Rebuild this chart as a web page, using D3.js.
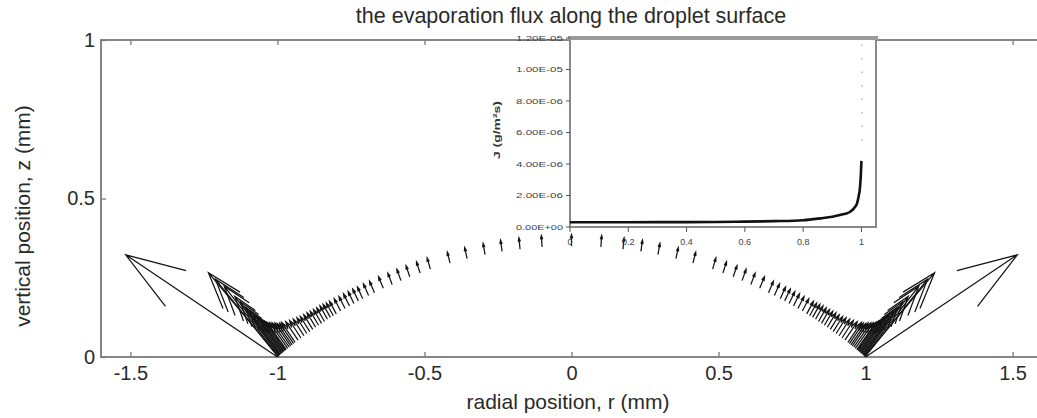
<!DOCTYPE html>
<html>
<head>
<meta charset="utf-8">
<script src="https://cdn.jsdelivr.net/npm/d3@7"></script>
<style>
	body { margin: 0; background: #fff; }
	svg { font-family: "Liberation Sans", Arial, Helvetica, sans-serif; }
</style>
</head>
<body>
<svg id="chart" width="1037" height="418"></svg>
<script>

var xTicks = [-1.5, -1, -0.5, 0, 0.5, 1, 1.5];
var yTicks = [0, 0.5, 1];

// arrow bases along the right half of the drop surface (left half is the mirror image)
var arrowR = [0, 0.1, 0.175, 0.236, 0.294, 0.355, 0.413, 0.48,
	0.515, 0.55, 0.58, 0.61, 0.64, 0.67, 0.69, 0.71, 0.725, 0.74, 0.755, 0.77, 0.785,
	0.80, 0.81, 0.82, 0.83, 0.84, 0.85, 0.86, 0.87, 0.88, 0.89,
	0.90, 0.91, 0.92, 0.93, 0.94, 0.945, 0.95, 0.955, 0.96, 0.965, 0.97,
	0.9725, 0.975, 0.9775, 0.98, 0.9825, 0.985, 0.9875, 0.99, 0.992, 0.994, 0.996, 0.997, 0.9985, 1.0];
var arrowZ = [0.350, 0.347, 0.340, 0.333, 0.323, 0.310, 0.296, 0.277,
	0.265, 0.253, 0.241, 0.229, 0.217, 0.203, 0.194, 0.184, 0.177, 0.169, 0.161, 0.153, 0.145,
	0.136, 0.130, 0.125, 0.119, 0.112, 0.106, 0.100, 0.094, 0.087, 0.080,
	0.074, 0.067, 0.060, 0.053, 0.046, 0.042, 0.038, 0.035, 0.031, 0.027, 0.023,
	0.022, 0.020, 0.018, 0.016, 0.014, 0.012, 0.010, 0.008, 0.006, 0.005, 0.003, 0.002, 0.001, 0.000];
// direction of each arrow, degrees from the +r axis
var arrowAngle = [90, 86, 84, 81.5, 79.5, 77, 75, 73,
	71, 70, 69, 68, 66, 65, 64.5, 64, 63, 62.5, 62, 61, 60.5,
	60, 59.5, 59, 59, 58.5, 58, 57.5, 57, 56.5, 56,
	56, 55.5, 55, 54.5, 54, 54, 53.5, 53.5, 53, 53, 53,
	52.5, 52.5, 52, 52, 52, 52, 51.5, 51.5, 51.5, 51, 50, 48, 49, 32];
// flux at each arrow, 1e-6 g/m2s
var arrowFlux = [0.30, 0.30, 0.30, 0.30, 0.30, 0.30, 0.30, 0.31,
	0.31, 0.31, 0.32, 0.32, 0.33, 0.33, 0.34, 0.34, 0.35, 0.35, 0.36, 0.36, 0.37,
	0.38, 0.39, 0.40, 0.41, 0.42, 0.43, 0.44, 0.45, 0.46, 0.48,
	0.50, 0.53, 0.56, 0.60, 0.65, 0.67, 0.70, 0.75, 0.80, 0.85, 0.90,
	0.95, 1.00, 1.05, 1.10, 1.20, 1.30, 1.45, 1.60, 1.80, 2.00, 2.40, 2.96, 2.70, 5.07];

// inset: flux against radial position
var insetR = [0, 0.1, 0.2, 0.3, 0.4, 0.5, 0.6, 0.7, 0.8, 0.86, 0.9, 0.94, 0.96, 0.975, 0.985, 0.99, 0.995, 0.998, 1.0];
var insetJ = [0.30, 0.30, 0.30, 0.31, 0.31, 0.32, 0.34, 0.37, 0.43, 0.55, 0.65, 0.82, 0.95, 1.2, 1.5, 1.9, 2.5, 3.3, 4.2];
var insetTailR = [1.002, 1.002];
var insetTailJ = [5.5, 12];
var insetXTicks = [0, 0.2, 0.4, 0.6, 0.8, 1];
var insetXLabels = ["0", "0.2", "0.4", "0.6", "0.8", "1"];
var insetYTicks = [0, 2, 4, 6, 8, 10, 12];
var insetYLabels = ["0.00E+00", "2.00E-06", "4.00E-06", "6.00E-06", "8.00E-06", "1.00E-05", "1.20E-05"];

var svg = d3.select("#chart");
var frameColor = "#7a7a7a";
var textColor = "#2a2a2a";

var x = d3.scaleLinear().domain([-1.6, 1.6]).range([101, 1042]);
var y = d3.scaleLinear().domain([0, 1]).range([357, 40]);
var arrowLength = d3.scaleLinear().domain([0, 1]).range([0, 0.12]);

renderMain();
renderArrows();
renderInset();

function tickText(d) {
	return String(d);
}

function renderMain() {

	svg.append("text")
		.attr("x", 571)
		.attr("y", 23)
		.attr("text-anchor", "middle")
		.attr("font-size", 21.5)
		.attr("fill", textColor)
		.text("the evaporation flux along the droplet surface");

	var bottom = svg.append("g")
		.attr("transform", "translate(0," + y(0) + ")")
		.call(d3.axisBottom(x).tickValues(xTicks).tickSize(-5).tickSizeOuter(0).tickPadding(9)
			.tickFormat(tickText));

	var top = svg.append("g")
		.attr("transform", "translate(0," + y(1) + ")")
		.call(d3.axisTop(x).tickValues(xTicks).tickSize(-5).tickSizeOuter(0).tickFormat(""));

	var left = svg.append("g")
		.attr("transform", "translate(" + x(-1.6) + ",0)")
		.call(d3.axisLeft(y).tickValues(yTicks).tickSize(-5).tickSizeOuter(0).tickPadding(6)
			.tickFormat(tickText));

	[bottom, top, left].forEach(function(g) {
		g.select(".domain").remove();
		g.selectAll(".tick line").attr("stroke", frameColor).attr("stroke-width", 1.3);
		g.selectAll(".tick text").attr("font-size", 20).attr("fill", textColor)
			.attr("font-family", "Liberation Sans, Arial, sans-serif");
	});

	svg.append("rect")
		.attr("x", x(-1.6))
		.attr("y", y(1))
		.attr("width", x(1.6) - x(-1.6))
		.attr("height", y(0) - y(1))
		.attr("fill", "none")
		.attr("stroke", frameColor)
		.attr("stroke-width", 1.8);

	svg.append("text")
		.attr("x", 568)
		.attr("y", 409)
		.attr("text-anchor", "middle")
		.attr("font-size", 21)
		.attr("fill", textColor)
		.text("radial position, r (mm)");

	svg.append("text")
		.attr("transform", "translate(30,216) rotate(-90)")
		.attr("text-anchor", "middle")
		.attr("font-size", 21)
		.attr("fill", textColor)
		.text("vertical position, z (mm)");

}

function renderArrows() {

	var arrows = [];

	arrowR.forEach(function(r, i) {
		var len = arrowLength(arrowFlux[i]);
		var a = arrowAngle[i] * Math.PI / 180;
		arrows.push({r: r, z: arrowZ[i], u: len * Math.cos(a), v: len * Math.sin(a)});
		if (r > 0) {
			arrows.push({r: -r, z: arrowZ[i], u: -len * Math.cos(a), v: len * Math.sin(a)});
		}
	});

	// quiver style heads, worked out in data units
	var alpha = 0.33, beta = 0.33;

	svg.append("g")
		.attr("class", "quiver")
		.selectAll("path")
		.data(arrows)
		.enter()
		.append("path")
		.attr("d", function(d) {
			var tx = d.r + d.u, ty = d.z + d.v;
			var h1x = tx - alpha * (d.u + beta * d.v), h1y = ty - alpha * (d.v - beta * d.u);
			var h2x = tx - alpha * (d.u - beta * d.v), h2y = ty - alpha * (d.v + beta * d.u);
			return "M" + x(d.r) + "," + y(d.z) + "L" + x(tx) + "," + y(ty) +
				"M" + x(h1x) + "," + y(h1y) + "L" + x(tx) + "," + y(ty) + "L" + x(h2x) + "," + y(h2y);
		})
		.attr("fill", "none")
		.attr("stroke", "#151515")
		.attr("stroke-width", 1.25);

}

function renderInset() {

	var ix = d3.scaleLinear().domain([0, 1.05]).range([570, 876]);
	var iy = d3.scaleLinear().domain([0, 12]).range([227, 38]);

	var g = svg.append("g").attr("class", "inset");

	g.append("rect")
		.attr("x", ix(0))
		.attr("y", iy(12))
		.attr("width", ix(1.05) - ix(0))
		.attr("height", iy(0) - iy(12))
		.attr("fill", "#fff")
		.attr("stroke", "#8a8a8a")
		.attr("stroke-width", 2);

	g.append("line")
		.attr("x1", ix(0) - 2)
		.attr("x2", ix(1.05) + 2)
		.attr("y1", iy(12))
		.attr("y2", iy(12))
		.attr("stroke", "#9a9a9a")
		.attr("stroke-width", 4);

	g.selectAll("line.ytick")
		.data(insetYTicks)
		.enter()
		.append("line")
		.attr("class", "ytick")
		.attr("x1", ix(0) - 4)
		.attr("x2", ix(0))
		.attr("y1", function(d) { return iy(d); })
		.attr("y2", function(d) { return iy(d); })
		.attr("stroke", "#555");

	g.selectAll("text.ylab")
		.data(insetYTicks)
		.enter()
		.append("text")
		.attr("class", "ylab")
		.attr("x", ix(0) - 7)
		.attr("y", function(d) { return iy(d) + 2.5; })
		.attr("text-anchor", "end")
		.attr("font-size", 7.5)
		.attr("textLength", 47)
		.attr("lengthAdjust", "spacingAndGlyphs")
		.attr("fill", "#444")
		.text(function(d, i) { return insetYLabels[i]; });

	g.selectAll("line.xtick")
		.data(insetXTicks)
		.enter()
		.append("line")
		.attr("class", "xtick")
		.attr("x1", function(d) { return ix(d); })
		.attr("x2", function(d) { return ix(d); })
		.attr("y1", iy(0))
		.attr("y2", iy(0) + 5)
		.attr("stroke", "#555");

	g.selectAll("text.xlab")
		.data(insetXTicks)
		.enter()
		.append("text")
		.attr("class", "xlab")
		.attr("x", function(d) { return ix(d); })
		.attr("y", iy(0) + 18)
		.attr("text-anchor", "middle")
		.attr("font-size", 9)
		.attr("fill", "#444")
		.text(function(d, i) { return insetXLabels[i]; });

	g.append("text")
		.attr("transform", "translate(500,130) rotate(-90)")
		.attr("text-anchor", "middle")
		.attr("font-size", 9)
		.attr("font-weight", "bold")
		.attr("textLength", 58)
		.attr("lengthAdjust", "spacingAndGlyphs")
		.attr("fill", "#333")
		.text("J (g/m\u00b2s)");

	var line = d3.line()
		.curve(d3.curveMonotoneX)
		.x(function(d, i) { return ix(insetR[i]); })
		.y(function(d) { return iy(d); });

	g.append("path")
		.datum(insetJ)
		.attr("d", line)
		.attr("fill", "none")
		.attr("stroke", "#111")
		.attr("stroke-width", 2.6);

	g.append("path")
		.datum(insetTailJ)
		.attr("d", d3.line().x(function(d, i) { return ix(insetTailR[i]); }).y(function(d) { return iy(d); }))
		.attr("fill", "none")
		.attr("stroke", "#b5b5b5")
		.attr("stroke-width", 1.5)
		.attr("stroke-dasharray", "1.5,12");

}

</script>
</body>
</html>
